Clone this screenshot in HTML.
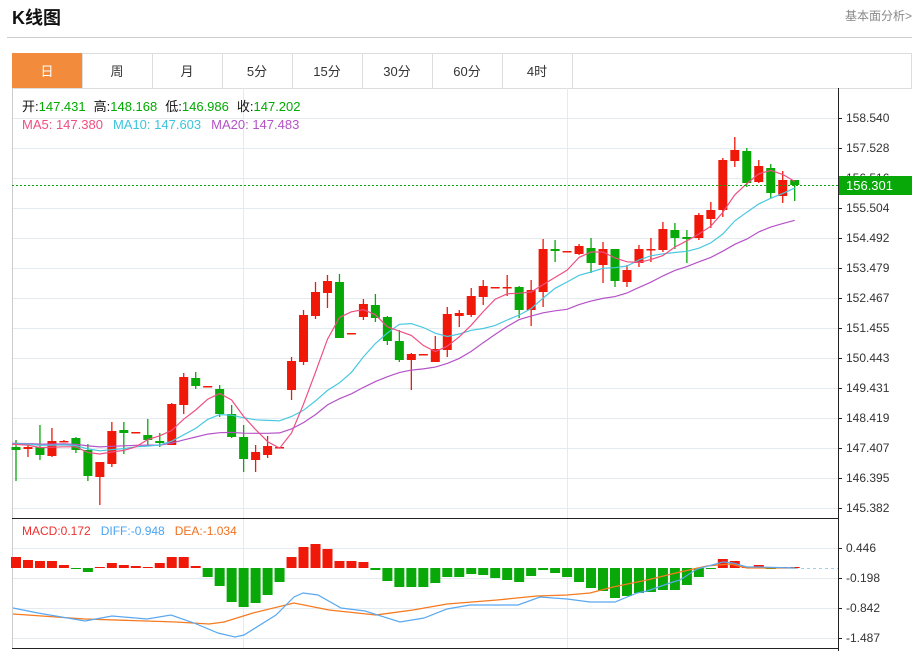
<!DOCTYPE html>
<html><head><meta charset="utf-8"><style>
body{margin:0;background:#fff;width:917px;height:651px;overflow:hidden;font-family:"Liberation Sans","Noto Sans CJK SC",sans-serif;}
</style></head><body>
<svg id="s" width="917" height="651" xmlns="http://www.w3.org/2000/svg" font-family="Liberation Sans, Noto Sans CJK SC, sans-serif">
<text x="12" y="24" font-size="18" font-weight="bold" fill="#111">K线图</text>
<text x="912" y="20" font-size="12" fill="#888" text-anchor="end">基本面分析&gt;</text>
<line x1="7" y1="37.5" x2="912" y2="37.5" stroke="#ccc"/>
<rect x="12.5" y="53.5" width="899" height="35" fill="#fff" stroke="#ddd"/>
<rect x="12" y="53" width="70" height="35" fill="#f28c3c"/>
<g id="tabs"></g>
<g id="g"></g>
</svg>
<script>
const s=document.getElementById('g');let h='';
const tabs=['日','周','月','5分','15分','30分','60分','4时'];
tabs.forEach((t,i)=>{const x=12+i*70;h+=`<text x="${x+35}" y="76" font-size="13" text-anchor="middle" fill="${i?'#333':'#fff'}">${t}</text>`;if(i>0)h+=`<line x1="${x+.5}" y1="53" x2="${x+.5}" y2="88" stroke="#ddd"/>`;});
h+=`<line x1="572.5" y1="53" x2="572.5" y2="88" stroke="#ddd"/>`;
// grids
for(let i=0;i<14;i++){const y=118+i*30;h+=`<line x1="12" y1="${y+.5}" x2="838" y2="${y+.5}" stroke="#e3ebf1"/>`;}
[548,578,608,638].forEach(y=>h+=`<line x1="12" y1="${y+.5}" x2="838" y2="${y+.5}" stroke="#e3ebf1"/>`);
[243.5,567.5].forEach(x=>h+=`<line x1="${x}" y1="88" x2="${x}" y2="648" stroke="#e3ebf1"/>`);
h+=`<line x1="12.5" y1="88" x2="12.5" y2="648" stroke="#ccc"/>`;
h+=`<line x1="12" y1="518.5" x2="838" y2="518.5" stroke="#222"/>`;
h+=`<line x1="12" y1="648.5" x2="838" y2="648.5" stroke="#222"/>`;
h+=`<line x1="838.5" y1="88" x2="838.5" y2="651" stroke="#222"/>`;
const labs=['158.540','157.528','156.516','155.504','154.492','153.479','152.467','151.455','150.443','149.431','148.419','147.407','146.395','145.382'];
labs.forEach((l,i)=>{const y=118+i*30;h+=`<line x1="838" y1="${y+.5}" x2="842" y2="${y+.5}" stroke="#222"/><text x="846" y="${y+4}" font-size="12" fill="#333">${l}</text>`;});
[['0.446',548],['-0.198',578],['-0.842',608],['-1.487',638]].forEach(([l,y])=>{h+=`<line x1="838" y1="${y+.5}" x2="842" y2="${y+.5}" stroke="#222"/><text x="846" y="${y+4}" font-size="12" fill="#333">${l}</text>`;});
const C=[[447,450,440,481],[449,447,443,457],[447,455,425,460],[456,441,428,457],[442,441,440,442],[438,450,437,453],[450,476,444,481],[477,462,462,505],[464,431,422,467],[430,433,422,454],[432,432,432,432],[435,440,419,445],[441,443,433,447],[445,404,403,445],[405,377,373,414],[378,386,372,389],[386,386,386,386],[389,414,385,417],[414,437,405,438],[437,459,425,472],[460,452,445,472],[455,446,436,458],[447,447,447,447],[390,361,357,400],[362,315,310,365],[316,292,282,319],[293,281,275,308],[282,338,274,338],[333,333,333,333],[317,304,299,320],[305,318,294,322],[317,341,316,345],[341,360,330,362],[360,354,353,390],[354,354,354,354],[362,349,336,362],[350,314,307,357],[316,313,310,327],[315,296,288,317],[297,286,280,305],[287,287,287,287],[287,287,275,296],[287,310,286,318],[310,290,280,326],[292,249,239,307],[249,251,240,262],[251,251,251,251],[254,246,244,255],[248,263,238,273],[265,249,242,283],[249,281,249,287],[282,270,265,287],[263,249,245,267],[249,249,238,262],[250,229,222,252],[230,238,223,249],[237,239,230,263],[238,215,213,240],[219,210,202,228],[210,160,158,217],[161,150,137,167],[151,183,148,187],[182,166,160,183],[168,193,164,198],[196,180,171,203],[180,185,180,201]];
const G=new Set([9,45,56]);const R='#f01808',GR='#07a807';
const X=i=>16+i*11.98;
C.forEach((c,i)=>{const [o,cl,hi,lo]=c;const x=X(i);let up=cl<o||(cl==o&&!G.has(i));if(cl>o)up=false;const col=up?R:GR;
h+=`<line x1="${x}" y1="${hi}" x2="${x}" y2="${lo}" stroke="${col}" stroke-width="1.3"/>`;
const t=Math.min(o,cl),b=Math.max(o,cl);h+=`<rect x="${x-4.5}" y="${t}" width="9" height="${Math.max(b-t,1.5)}" fill="${col}"/>`;});
// MAs
const cls=C.map(c=>c[1]);
function ma(n){const pts=[];for(let i=0;i<cls.length;i++){let s=0;for(let k=i-n+1;k<=i;k++)s+=k<0?443:cls[k];pts.push([X(i),s/n]);}pts.unshift([12,pts[0][1]]);return pts.map(p=>p[0].toFixed(1)+','+p[1].toFixed(1)).join(' ');}
h+=`<polyline points="${ma(20)}" fill="none" stroke="#b552c8" stroke-width="1.2"/>`;
h+=`<polyline points="${ma(10)}" fill="none" stroke="#48c8e0" stroke-width="1.2"/>`;
h+=`<polyline points="${ma(5)}" fill="none" stroke="#ee4f82" stroke-width="1.2"/>`;
// price line
h+=`<line x1="12" y1="185.5" x2="838" y2="185.5" stroke="#07a807" stroke-dasharray="2,2"/>`;
h+=`<rect x="839" y="176" width="73" height="19" fill="#07a807"/><text x="846" y="190" font-size="13" fill="#fff">156.301</text>`;
// MACD bars
const M=[557,560,561,561,565,569,572,567,563,565,566,567,563,557,557,566,577,586,602,607,603,595,582,557,547,544,549,561,561,562,570,581,587,587,587,583,577,577,574,575,578,580,582,576,570,573,577,582,588,591,598,596,593,592,590,590,585,577,569,559,561,567,565,569,567,567];
const Z=568;
M.forEach((y,i)=>{const x=X(i);const col=y<Z?R:GR;const t=Math.min(y,Z),b=Math.max(y,Z);h+=`<rect x="${x-5}" y="${t}" width="10" height="${Math.max(b-t,1)}" fill="${col}"/>`;});
h+=`<line x1="795" y1="568.5" x2="838" y2="568.5" stroke="#9fd0ee" stroke-dasharray="3,3"/>`;
const diff=[[13,608],[38,613],[85,621],[112,616],[147,619],[171,615],[194,623],[218,633],[235,637],[244,635],[276,615],[294,597],[303,593],[318,595],[341,608],[365,611],[400,622],[424,618],[447,609],[470,605],[518,605],[540,597],[567,599],[590,602],[615,602],[637,593],[647,591],[673,582],[680,580],[697,569],[723,562],[733,563],[747,567],[760,567],[795,568]];
const dea=[[13,614],[85,619],[176,622],[209,624],[224,622],[253,613],[294,603],[329,610],[376,615],[413,610],[447,604],[497,600],[537,596],[567,595],[590,593],[613,587],[647,580],[680,572],[707,566],[730,564],[747,568],[795,568]];
h+=`<polyline points="${dea.join(' ')}" fill="none" stroke="#f57a20" stroke-width="1.3"/>`;
h+=`<polyline points="${diff.join(' ')}" fill="none" stroke="#5aa8f0" stroke-width="1.2"/>`;
// info
h+=`<text x="22" y="111" font-size="13"><tspan fill="#111">开:</tspan><tspan fill="#0a0">147.431</tspan><tspan fill="#111" dx="8">高:</tspan><tspan fill="#0a0">148.168</tspan><tspan fill="#111" dx="8">低:</tspan><tspan fill="#0a0">146.986</tspan><tspan fill="#111" dx="8">收:</tspan><tspan fill="#0a0">147.202</tspan></text>`;
h+=`<text x="22" y="129" font-size="13"><tspan fill="#ee4f82">MA5: 147.380</tspan><tspan fill="#3cc4dc" dx="10">MA10: 147.603</tspan><tspan fill="#b552c8" dx="10">MA20: 147.483</tspan></text>`;
h+=`<text x="22" y="535" font-size="12"><tspan fill="#ee3030">MACD:0.172</tspan><tspan fill="#4aa3f0" dx="10">DIFF:-0.948</tspan><tspan fill="#f07020" dx="10">DEA:-1.034</tspan></text>`;
s.innerHTML=h;
</script>
</body></html>
